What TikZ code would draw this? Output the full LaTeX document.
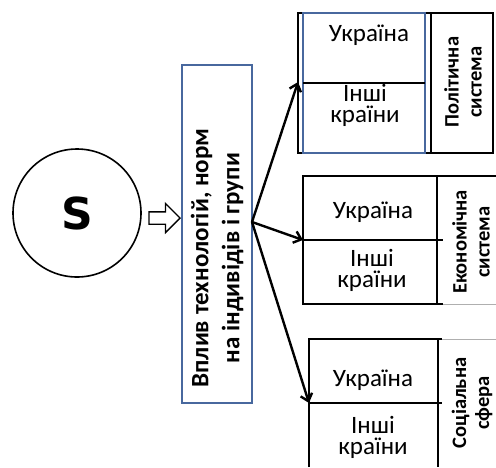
\documentclass[tikz,border=0pt]{standalone}
\usepackage{fontspec}
\setmainfont{Carlito}
\newfontfamily\heavyfont{DejaVu Sans}
\usetikzlibrary{shapes.arrows,arrows.meta}
\definecolor{frameblue}{RGB}{72,104,158}
\definecolor{lightrule}{RGB}{175,175,175}
\tikzset{
  cellline/.style={line width=1.8pt},
  thinline/.style={line width=1.2pt},
  celltext/.style={font=\fontsize{25}{21}\selectfont, align=center, inner sep=1pt},
  sphere/.style={rotate=90, font=\bfseries\fontsize{20.5}{23}\selectfont, align=center, inner sep=0pt},
  link/.style={line width=2.4pt, -{Straight Barb[length=7pt,width=12pt,line width=2.4pt]}}
}

\begin{document}
\begin{tikzpicture}[x=1pt,y=-1pt]
\useasboundingbox (0,0) rectangle (496,467);
\node[draw, circle, line width=1.6pt, minimum size=128pt,
  font=\heavyfont\bfseries\fontsize{44}{44}\selectfont] (s) at (77,213) {S};
\node[draw, single arrow, line width=1.3pt, inner sep=5.5pt,
  single arrow head extend=8.5pt, minimum height=31pt] (shift) at (161.5,218) {};
\node[draw=frameblue, line width=1.5pt, minimum width=70pt, minimum height=338pt] (vplyv) at (217,234) {};
\node[rotate=90, font=\bfseries\fontsize{25}{31}\selectfont, align=center] (vplyvtext) at (217,258)
  {Вплив технологій, норм\\на індивідів і групи};
\coordinate (fork) at (252,222);

% political system
\draw[cellline] (298,13) rectangle (493,153);
\draw[frameblue, line width=1.5pt] (303,13) rectangle (425,153);
\draw[cellline] (431,13) -- (431,153);
\draw[thinline] (303,83) -- (425,83);
\coordinate (pol) at (298,82);
\node[celltext] (ukr1) at (369,35) {Україна};
\node[celltext] (inshi1) at (365,105) {Інші\\країни};
\node[sphere] (polsys) at (463,82) {Політична\\система};

% economic system
\draw[cellline] (496,176) -- (303,176) -- (303,304) -- (443,304);
\draw[lightrule, line width=1pt] (443,304) -- (496,304);
\draw[thinline] (437,176) -- (437,304);
\draw[thinline] (303,240) -- (443,240);
\coordinate (eko) at (303,240);
\node[celltext] (ukr2) at (373,212) {Україна};
\node[celltext] (inshi2) at (372,270) {Інші\\країни};
\node[sphere] (ekosys) at (471,242) {Економічна\\система};

% social sphere
\draw[cellline] (309,467) -- (309,339) -- (442,339);
\draw[lightrule, line width=1pt] (442,339) -- (496,339);
\draw[thinline] (438,339) -- (438,467);
\draw[cellline] (309,403) -- (442,403);
\coordinate (soc) at (309,403);
\node[celltext] (ukr3) at (373,380) {Україна};
\node[celltext] (inshi3) at (373,437) {Інші\\країни};
\node[sphere] (socsph) at (472,403) {Соціальна\\сфера};

\draw[link] (fork) -- (pol);
\draw[link] (fork) -- (eko);
\draw[link] (fork) -- (soc);
\end{tikzpicture}
\end{document}
